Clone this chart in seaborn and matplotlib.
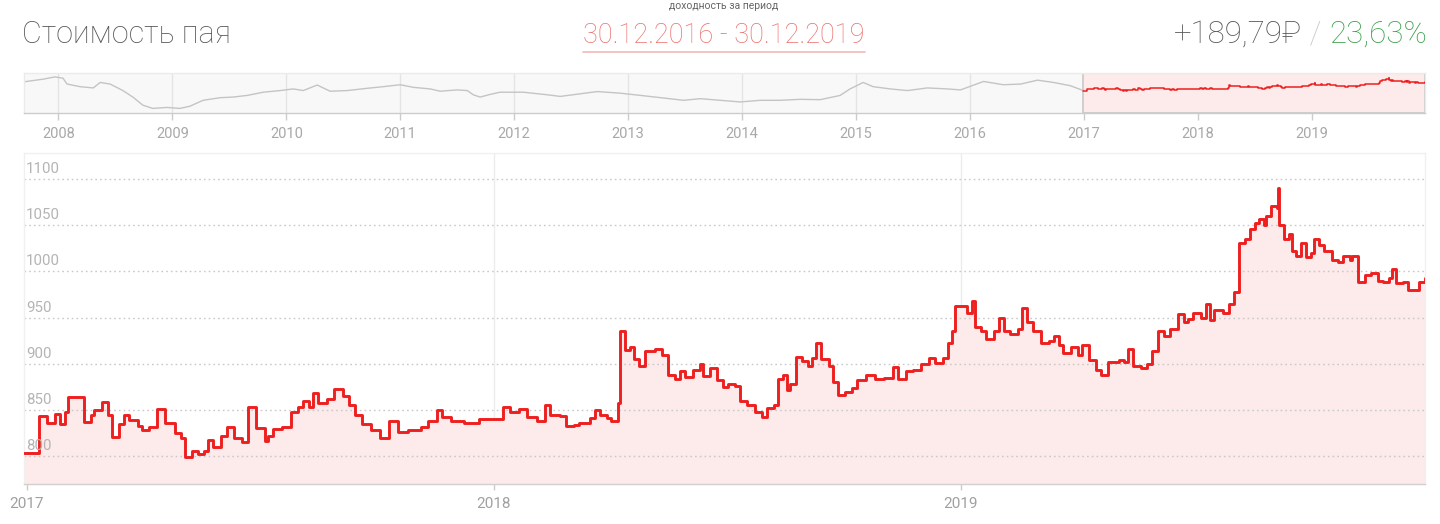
import matplotlib
matplotlib.use("Agg")
import matplotlib.pyplot as plt
import matplotlib.transforms as mtransforms
from matplotlib.lines import Line2D
import seaborn as sns
import pandas as pd

# ---------------- data ----------------
title_text = "Стоимость пая"
period_caption = "доходность за период"
period_text = "30.12.2016 - 30.12.2019"
gain_rub = "+189,79₽"
gain_sep = " / "
gain_pct = "23,63%"

y_ticks = [800, 850, 900, 950, 1000, 1050, 1100]
main_years = [2017, 2018, 2019]
nav_years = [2008, 2009, 2010, 2011, 2012, 2013, 2014, 2015, 2016, 2017, 2018, 2019]

# main series (step changes), month-day per year
days_2016 = ["12-30"]
vals_2016 = [803]
days_2017 = ["01-11", "01-17", "01-23", "01-27", "01-31", "02-02", "02-15", "02-20", "02-23", "03-01",
             "03-06", "03-09", "03-14", "03-18", "03-22", "03-29", "04-01", "04-07", "04-13", "04-19",
             "04-27", "05-02", "05-05", "05-10", "05-15", "05-20", "05-23", "05-27", "06-02", "06-07",
             "06-12", "06-18", "06-23", "06-29", "07-06", "07-09", "07-13", "07-20", "07-27", "08-01",
             "08-05", "08-10", "08-13", "08-17", "08-24", "08-29", "09-05", "09-10", "09-15", "09-20",
             "09-27", "10-04", "10-11", "10-18", "10-26", "11-05", "11-11", "11-18", "11-22", "11-29",
             "12-09", "12-21"]
vals_2017 = [844, 836, 846, 835, 848, 864, 837, 845, 850, 859,
             845, 821, 835, 845, 839, 833, 828, 832, 851, 836,
             825, 820, 799, 806, 802, 806, 818, 810, 822, 832,
             820, 815, 853, 831, 817, 822, 829, 832, 848, 853,
             860, 853, 868, 858, 862, 873, 865, 855, 845, 835,
             828, 820, 838, 826, 828, 832, 838, 850, 843, 838,
             836, 840]
days_2018 = ["01-08", "01-14", "01-21", "01-27", "02-04", "02-10", "02-14", "02-22", "02-27", "03-05",
             "03-09", "03-17", "03-21", "03-25", "03-31", "04-03", "04-08", "04-10", "04-14", "04-18",
             "04-21", "04-25", "04-29", "05-07", "05-13", "05-17", "05-23", "05-27", "05-31", "06-06",
             "06-11", "06-14", "06-19", "06-25", "06-29", "07-03", "07-09", "07-13", "07-18", "07-24",
             "07-30", "08-03", "08-08", "08-11", "08-15", "08-18", "08-21", "08-25", "08-30", "09-04",
             "09-07", "09-10", "09-14", "09-20", "09-23", "09-27", "10-03", "10-08", "10-12", "10-19",
             "10-26", "11-02", "11-09", "11-13", "11-19", "11-25", "12-01", "12-07", "12-12", "12-18",
             "12-22", "12-25", "12-28"]
vals_2018 = [853, 848, 851, 842, 838, 855, 845, 844, 833, 834,
             836, 841, 850, 845, 841, 838, 858, 936, 915, 918,
             905, 898, 914, 916, 909, 888, 884, 892, 886, 893,
             900, 887, 895, 882, 875, 878, 876, 860, 855, 848,
             843, 852, 855, 884, 888, 872, 878, 907, 903, 898,
             906, 922, 905, 898, 880, 866, 870, 874, 883, 888,
             884, 885, 897, 884, 892, 893, 900, 906, 901, 906,
             922, 935, 962]
days_2019 = ["01-06", "01-10", "01-12", "01-17", "01-21", "01-27", "01-31", "02-04", "02-09", "02-15",
             "02-18", "02-22", "02-27", "03-05", "03-11", "03-15", "03-19", "03-22", "03-28", "04-03",
             "04-06", "04-11", "04-17", "04-21", "04-26", "05-05", "05-09", "05-12", "05-16", "05-22",
             "05-27", "05-31", "06-04", "06-09", "06-14", "06-20", "06-25", "06-28", "07-02", "07-08",
             "07-12", "07-15", "07-18", "07-25", "07-30", "08-03", "08-07", "08-11", "08-15", "08-19",
             "08-22", "08-26", "08-28", "09-01", "09-05", "09-06", "09-07", "09-11", "09-15", "09-17",
             "09-20", "09-24", "09-28", "10-02", "10-04", "10-08", "10-12", "10-18", "10-23", "10-27",
             "11-01", "11-03", "11-08", "11-13", "11-18", "11-23", "11-27", "12-02", "12-04", "12-07",
             "12-13", "12-17", "12-25", "12-30"]
vals_2019 = [955, 968, 940, 935, 927, 935, 950, 935, 932, 938,
             960, 945, 936, 922, 925, 930, 920, 912, 918, 910,
             920, 904, 893, 888, 902, 904, 902, 916, 898, 895,
             900, 914, 936, 930, 938, 954, 945, 949, 955, 950,
             965, 947, 958, 955, 965, 978, 1031, 1035, 1046, 1052,
             1057, 1050, 1060, 1071, 1068, 1090, 1050, 1035, 1040, 1022,
             1017, 1031, 1015, 1020, 1035, 1028, 1022, 1012, 1010, 1017,
             1012, 1017, 988, 996, 998, 990, 988, 993, 1003, 987,
             988, 980, 988, 993]

# navigator history before the selected period
hist_dates = ["2007-09-13", "2007-11-13", "2007-12-21", "2008-01-16", "2008-01-29", "2008-03-11",
              "2008-04-22", "2008-05-14", "2008-06-15", "2008-07-26", "2008-08-27", "2008-09-28",
              "2008-10-30", "2008-12-14", "2009-01-25", "2009-02-26", "2009-04-09", "2009-06-03",
              "2009-07-14", "2009-08-28", "2009-10-19", "2009-12-12", "2010-01-23", "2010-02-24",
              "2010-04-10", "2010-05-21", "2010-07-15", "2010-09-17", "2010-11-07", "2011-01-01",
              "2011-02-12", "2011-04-07", "2011-05-09", "2011-07-02", "2011-08-04", "2011-08-23",
              "2011-09-14", "2011-10-16", "2011-11-17", "2012-01-30", "2012-04-16", "2012-05-28",
              "2012-07-31", "2012-09-24", "2012-12-07", "2013-02-10", "2013-04-15", "2013-06-27",
              "2013-08-20", "2013-10-23", "2013-12-26", "2014-02-28", "2014-05-03", "2014-07-06",
              "2014-09-08", "2014-11-11", "2014-12-13", "2015-01-24", "2015-02-25", "2015-04-21",
              "2015-06-15", "2015-08-18", "2015-10-21", "2015-12-02", "2016-02-14", "2016-04-17",
              "2016-06-12", "2016-08-05", "2016-09-25", "2016-11-18", "2016-12-30"]
hist_values = [1006, 1067, 1119, 1090, 954, 893,
               864, 991, 954, 803, 652, 464,
               389, 412, 389, 441, 577, 638,
               652, 690, 765, 803, 841, 803,
               931, 788, 803, 855, 893, 938,
               878, 841, 788, 818, 803, 706,
               652, 713, 765, 765, 706, 667,
               728, 780, 742, 690, 638, 577,
               615, 577, 539, 577, 577, 600,
               592, 690, 841, 991, 893, 841,
               803, 864, 841, 818, 1014, 938,
               954, 1044, 991, 916, 803]

# ---------------- build frames ----------------
def year_frame(year, days, vals):
    return pd.DataFrame({"date": pd.to_datetime([f"{year}-{d}" for d in days]), "value": vals})

main_df = pd.concat([year_frame(2016, days_2016, vals_2016),
                     year_frame(2017, days_2017, vals_2017),
                     year_frame(2018, days_2018, vals_2018),
                     year_frame(2019, days_2019, vals_2019)], ignore_index=True)
hist_df = pd.DataFrame({"date": pd.to_datetime(hist_dates), "value": hist_values})

# ---------------- style ----------------
sns.set_theme(style="white")
plt.rcParams["font.family"] = ["Roboto", "DejaVu Sans"]

W, H = 1440, 524
fig = plt.figure(figsize=(W / 100, H / 100), dpi=100)
fig.patch.set_facecolor("white")

RED = "#ee1f1f"
PINK = "#fdeaea"
start = pd.Timestamp("2016-12-30")
end = pd.Timestamp("2019-12-30")

# ---------------- main chart ----------------
ax = fig.add_axes([24 / W, 1 - 484 / H, (1425 - 24) / W, (484 - 153) / H])
ax.set_facecolor("white")
y_bottom, y_top = 770, 1128
ax.fill_between(main_df["date"], main_df["value"], y_bottom, step="post", color=PINK, lw=0, zorder=1)
sns.lineplot(data=main_df, x="date", y="value", ax=ax, drawstyle="steps-post",
             color=RED, lw=2.1, zorder=3, estimator=None)
ax.set_xlim(start, end)
ax.set_ylim(y_bottom, y_top)
ax.set_xlabel("")
ax.set_ylabel("")

for v in y_ticks:
    ax.axhline(v, color="#c9c9c9", lw=1, ls=(0, (1.2, 2.2)), zorder=2)
for yr in main_years[1:]:
    ax.axvline(pd.Timestamp(f"{yr}-01-01"), color="#ececec", lw=1, zorder=0.5)

ax.set_yticks([])
ax.set_xticks([pd.Timestamp(f"{yr}-01-01") for yr in main_years])
ax.set_xticklabels([str(yr) for yr in main_years])
ax.tick_params(axis="x", length=4, width=1, color="#cccccc", labelcolor="#a0a0a0",
               labelsize=11, pad=5, bottom=True)
for name, sp in ax.spines.items():
    sp.set_visible(True)
    sp.set_linewidth(1)
    sp.set_color("#f0f0f0")
ax.spines["bottom"].set_color("#d0d0d0")

lab_tr = mtransforms.offset_copy(ax.get_yaxis_transform(), fig=fig, x=2, y=3, units="dots")
for v in y_ticks:
    ax.text(0, v, str(v), transform=lab_tr, ha="left", va="bottom",
            fontsize=10.8, color="#b4b4b4", zorder=4)

# ---------------- navigator ----------------
nav = fig.add_axes([24 / W, 1 - 113.3 / H, (1425 - 24) / W, (113.3 - 72.7) / H])
nav.set_facecolor("#f8f8f8")
nav.axvspan(start, end, facecolor=PINK, edgecolor="#c8c8c8", lw=1.2, zorder=1)
for yr in nav_years:
    nav.axvline(pd.Timestamp(f"{yr}-01-01"), color="#e4e4e4", lw=1, zorder=0.5)
sns.lineplot(data=hist_df, x="date", y="value", ax=nav, color="#c4c4c4", lw=1, zorder=2, estimator=None)
sns.lineplot(data=main_df, x="date", y="value", ax=nav, color=RED, lw=1.1, zorder=3,
             drawstyle="steps-post", estimator=None)
nav.set_xlim(pd.Timestamp("2007-09-13"), end)
nav.set_ylim(276, 1217)
nav.set_xlabel("")
nav.set_ylabel("")
nav.set_yticks([])
nav.set_xticks([pd.Timestamp(f"{yr}-01-01") for yr in nav_years])
nav.set_xticklabels([str(yr) for yr in nav_years])
nav.tick_params(axis="x", length=5, width=1, color="#cccccc", labelcolor="#a8a8a8",
                labelsize=10.5, pad=5, bottom=True)
for name, sp in nav.spines.items():
    sp.set_visible(True)
    sp.set_color("#ebebeb")
    sp.set_linewidth(1)
nav.spines["bottom"].set_color("#cccccc")

# ---------------- header ----------------
base = 1 - 43 / H
fig.text(22 / W, base, title_text, ha="left", va="baseline", fontsize=22,
         color="#555555", fontweight="light")
fig.text(724 / W, 1 - 9 / H, period_caption, ha="center", va="baseline", fontsize=7.5,
         color="#666666")
pt = fig.text(724 / W, base, period_text, ha="center", va="baseline", fontsize=19.5,
              color="#ea6f6c", fontweight="light")

fig.canvas.draw()
rend = fig.canvas.get_renderer()
bb = pt.get_window_extent(rend)
fig.add_artist(Line2D([bb.x0 / W, bb.x1 / W], [1 - 51.5 / H, 1 - 51.5 / H],
                      color="#f2b9b7", lw=1.2, transform=fig.transFigure))

x_right = 1427
for txt, col in [(gain_pct, "#3c9f4d"), (gain_sep, "#c8c8c8"), (gain_rub, "#555555")]:
    t = fig.text(x_right / W, base, txt, ha="right", va="baseline", fontsize=22.5,
                 color=col, fontweight="light")
    x_right = t.get_window_extent(rend).x0

fig.savefig("out.png", dpi=100, facecolor="white")
